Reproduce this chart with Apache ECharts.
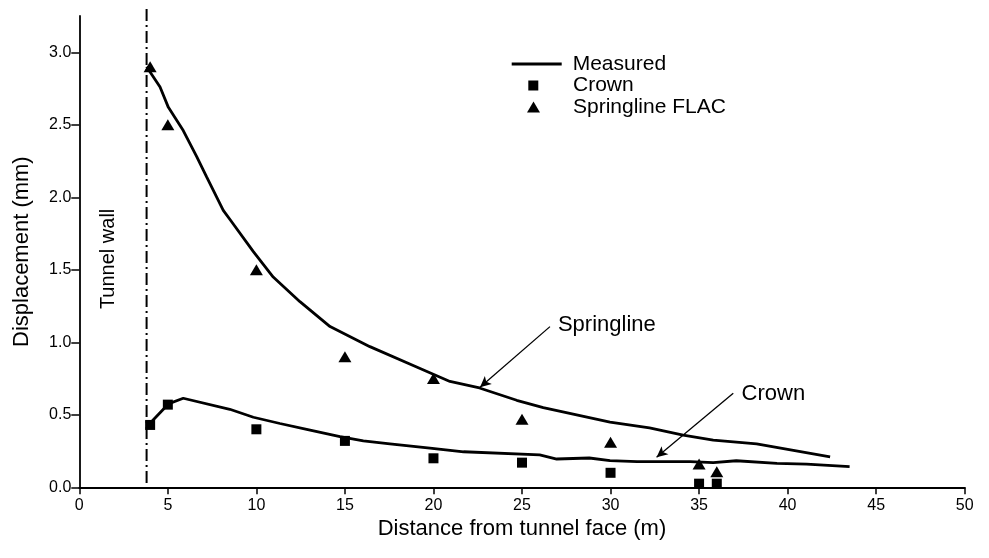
<!DOCTYPE html>
<html>
<head>
<meta charset="utf-8">
<script src="https://cdn.jsdelivr.net/npm/echarts@6/dist/echarts.min.js"></script>
<style>html,body{margin:0;padding:0;background:#fff}#c{width:989px;height:558px}</style>
</head>
<body>
<div id="c"></div>
<script>
// ---- data ----
const springlineMeasured = [[3.8,2.90],[4.56,2.76],[5.03,2.62],[5.87,2.46],[6.63,2.28],[7.19,2.14],[8.13,1.91],[8.52,1.845],[9.83,1.625],[10.95,1.45],[12.46,1.28],[14.16,1.108],[16.41,0.97],[19.05,0.83],[20.93,0.73],[22.6,0.685],[24.7,0.60],[26.2,0.55],[29.97,0.45],[32.2,0.41],[34.1,0.36],[35.8,0.326],[38.25,0.30],[42.4,0.21]];
const crownMeasured = [[3.9,0.43],[5.03,0.575],[5.87,0.614],[8.5,0.538],[9.83,0.483],[11.33,0.44],[12.84,0.40],[14.72,0.35],[16.04,0.32],[17.54,0.30],[19.8,0.27],[21.7,0.245],[26.0,0.223],[26.96,0.195],[28.8,0.202],[29.97,0.184],[31.5,0.177],[34.5,0.177],[35.8,0.17],[37.1,0.183],[39.4,0.165],[41.07,0.16],[43.5,0.142]];
const flacX = [4,5,10,15,20,25,30,35,36];
const crownFlac = [0.43,0.57,0.40,0.32,0.20,0.17,0.10,0.025,0.025];
const springlineFlac = [2.90,2.50,1.50,0.90,0.75,0.47,0.31,0.16,0.108];
const yTicks = [0,0.5,1.0,1.5,2.0,2.5,3.0];
const tunnelWallX = 3.8;
const tunnelWallY = [0.03,3.32];

const font = 'Liberation Sans, Arial, sans-serif';
const chart = echarts.init(document.getElementById('c'), null, {renderer:'canvas'});
const black = '#000';
const legendText = pad => ({fontSize:21,lineHeight:21,color:black,fontFamily:font,padding:[0,0,0,pad]});

chart.setOption({
  animation:false,
  backgroundColor:'#fff',
  textStyle:{fontFamily:font,color:black},
  grid:{left:79.3,right:24.3,top:16,bottom:70.7},
  legend:[
    {left:511.7,top:53.5,padding:0,itemWidth:50,itemHeight:3,icon:'rect',
     itemStyle:{color:black},textStyle:legendText(6),data:['Measured']},
    {left:528.3,top:75,padding:0,itemWidth:10,itemHeight:10,icon:'rect',
     itemStyle:{color:black,opacity:1},textStyle:legendText(29.7),data:['Crown']},
    {left:527,top:96.5,padding:0,itemWidth:13,itemHeight:11,icon:'triangle',
     itemStyle:{color:black,opacity:1},textStyle:legendText(28),data:['Springline FLAC']}
  ],
  xAxis:{
    type:'value',min:0,max:50,interval:5,
    name:'Distance from tunnel face (m)',nameLocation:'middle',nameGap:22,
    nameTextStyle:{fontSize:22,color:black,fontFamily:font},
    axisLine:{lineStyle:{color:black,width:1.8}},
    axisTick:{show:true,inside:false,length:7,lineStyle:{color:black,width:1.5}},
    axisLabel:{fontSize:16,color:black,margin:10,fontFamily:font},
    splitLine:{show:false}
  },
  yAxis:{
    type:'value',min:0,max:3.25,
    name:'Displacement (mm)',nameLocation:'middle',nameGap:46,
    nameTextStyle:{fontSize:22,color:black,fontFamily:font},
    axisLine:{show:true,lineStyle:{color:black,width:1.8}},
    axisTick:{show:true,length:8,lineStyle:{color:black,width:1.5},customValues:yTicks},
    axisLabel:{fontSize:16,color:black,margin:8,fontFamily:font,customValues:yTicks,formatter:v=>Number(v).toFixed(1)},
    splitLine:{show:false}
  },
  series:[
    {
      name:'Measured',type:'line',data:springlineMeasured,symbol:'none',smooth:false,
      lineStyle:{color:black,width:2.8},itemStyle:{color:black},z:3
    },
    {
      name:'Measured',type:'line',data:crownMeasured,symbol:'none',smooth:false,
      lineStyle:{color:black,width:2.8},itemStyle:{color:black},z:3
    },
    {
      name:'Crown',type:'scatter',data:flacX.map((x,i)=>[x,crownFlac[i]]),
      symbol:'rect',symbolSize:10,itemStyle:{color:black,opacity:1},z:4
    },
    {
      name:'Springline FLAC',type:'scatter',data:flacX.map((x,i)=>[x,springlineFlac[i]]),
      symbol:'triangle',symbolSize:[13,11],itemStyle:{color:black,opacity:1},z:4
    },
    {
      name:'Tunnel wall',type:'line',clip:false,silent:true,symbol:'none',
      data:[[tunnelWallX,tunnelWallY[0]],[tunnelWallX,tunnelWallY[1]]],
      lineStyle:{color:black,width:2,type:[12,4,2,4]},z:2,
      markPoint:{
        silent:true,symbol:'circle',symbolSize:0,
        data:[
          {coord:[1.62,1.575],label:{show:true,formatter:'Tunnel wall',position:'inside',rotate:90,fontSize:20,color:black,fontFamily:font}},
          {coord:[27.03,1.12],label:{show:true,formatter:'Springline',position:'right',distance:0,fontSize:22,color:black,fontFamily:font}},
          {coord:[37.4,0.643],label:{show:true,formatter:'Crown',position:'right',distance:0,fontSize:22,color:black,fontFamily:font}}
        ]
      },
      markLine:{
        silent:true,symbol:['none','arrow'],symbolSize:[8,11],
        lineStyle:{color:black,width:1.3,type:'solid'},label:{show:false},
        data:[
          [{coord:[26.58,1.108]},{coord:[22.63,0.69]}],
          [{coord:[36.93,0.648]},{coord:[32.6,0.207]}]
        ]
      }
    }
  ]
});
</script>
</body>
</html>
